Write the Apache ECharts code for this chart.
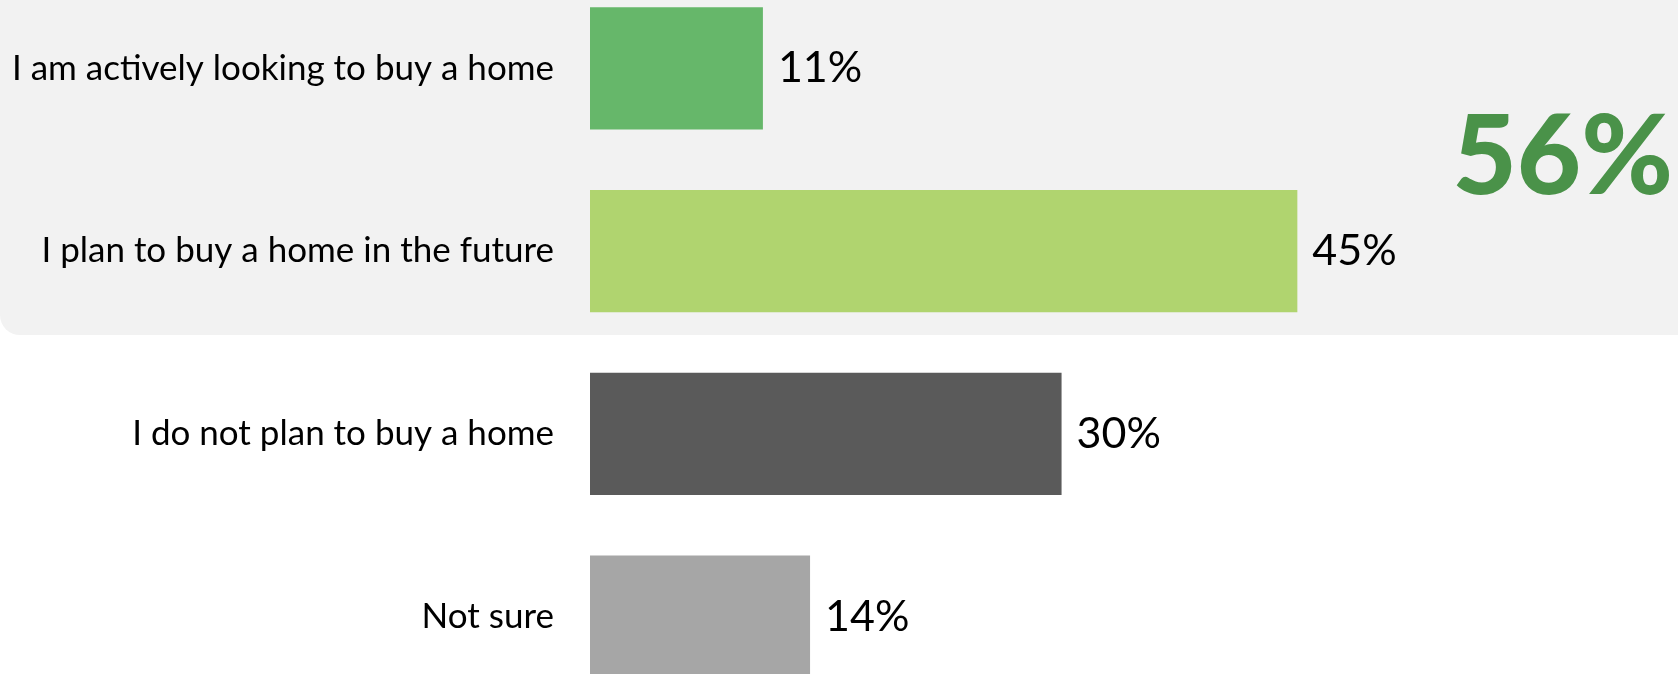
<!DOCTYPE html>
<html>
<head>
<meta charset="utf-8">
<style>
  html, body { margin: 0; padding: 0; background: #ffffff; }
  #chart { width: 1678px; height: 674px; }
</style>
<script src="https://cdn.jsdelivr.net/npm/echarts@6/dist/echarts.min.js"></script>
</head>
<body>
<div id="chart"></div>
<script>
// Home-buying intentions (share of respondents, %)
const categories = [
  'I am actively looking to buy a home',
  'I plan to buy a home in the future',
  'I do not plan to buy a home',
  'Not sure'
];
const values = [11, 45, 30, 14];
const barColors = ['#66b76a', '#b0d46f', '#5a5a5a', '#a6a6a6'];

// Headline figure: everyone who intends to buy (first two answers)
const buyerShare = values[0] + values[1];

const chart = echarts.init(document.getElementById('chart'), null, { renderer: 'canvas' });

const FONT = 'Lato, "Open Sans", sans-serif';

chart.setOption({
  animation: false,
  backgroundColor: '#ffffff',
  graphic: [
    {
      type: 'rect',
      z: -10,
      silent: true,
      shape: { x: 0, y: -40, width: 1720, height: 375, r: 20 },
      style: { fill: '#f2f2f2' }
    },
    {
      type: 'text',
      z: 10,
      right: 5,
      top: 103,
      style: {
        text: buyerShare + '%',
        fill: '#4a9249',
        font: '900 111px ' + FONT
      }
    }
  ],
  grid: {
    left: 590,
    right: 82,
    top: -23,
    height: 731,
    containLabel: false,
    outerBoundsMode: 'none'
  },
  xAxis: {
    type: 'value',
    min: 0,
    max: 64,
    show: false,
    splitLine: { show: false }
  },
  yAxis: {
    type: 'category',
    inverse: true,
    data: categories,
    axisLine: { show: false },
    axisTick: { show: false },
    axisLabel: {
      margin: 36,
      color: '#000000',
      fontSize: 35,
      fontFamily: FONT
    }
  },
  series: [
    {
      type: 'bar',
      data: values.map((v, i) => ({ value: v, itemStyle: { color: barColors[i] } })),
      barCategoryGap: '33%',
      label: {
        show: true,
        position: 'right',
        distance: 15,
        formatter: '{c}%',
        color: '#000000',
        fontSize: 43,
        fontFamily: FONT
      }
    }
  ]
});
</script>
</body>
</html>
